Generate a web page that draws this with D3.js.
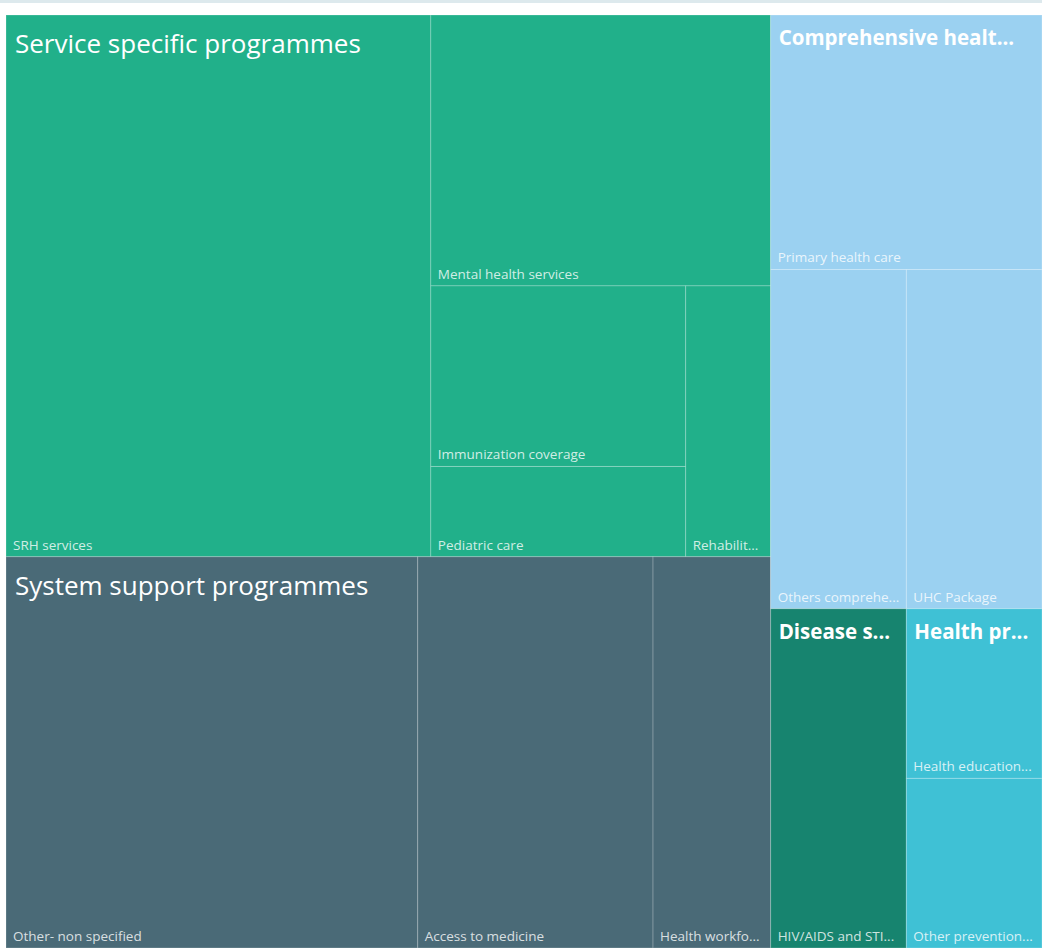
<!DOCTYPE html>
<html>
<head>
<meta charset="utf-8">
<script src="https://cdn.jsdelivr.net/npm/d3@7"></script>
<style>
  body { margin: 0; background: #fff; }
  svg { display: block; font-family: 'Open Sans', 'Noto Sans', sans-serif; }
</style>
</head>
<body>
<svg id="chart" width="1042" height="950"></svg>
<script>
// group names and their colours
let groupNames = [
  'Service specific programmes',
  'System support programmes',
  'Comprehensive health care',
  'Disease specific programmes',
  'Health promotion'
];
let groupColors = ['#21b08a', '#4a6a77', '#9bd1f1', '#17846f', '#3fc1d5'];

// leaves: name, group index, count
let leafNames = [
  'SRH services', 'Mental health services', 'Immunization coverage', 'Pediatric care', 'Rehabilitation',
  'Other- non specified', 'Access to medicine', 'Health workforce',
  'Primary health care', 'Others comprehensive', 'UHC Package',
  'HIV/AIDS and STI programmes',
  'Health education and awareness', 'Other prevention programmes'
];
let leafGroups = [0, 0, 0, 0, 0, 1, 1, 1, 2, 2, 2, 3, 4, 4];
let leafValues = [10, 4, 2, 1, 1, 7, 4, 2, 3, 2, 2, 2, 1, 1];

let margin = {top: 15, right: 0, bottom: 2, left: 6},
  width = 1042 - margin.left - margin.right,
  height = 950 - margin.top - margin.bottom;

let svg = d3.select('#chart');

// thin band at the very top
svg.append('rect')
  .attr('x', 0).attr('y', 0)
  .attr('width', 1042).attr('height', 3)
  .attr('fill', '#dde9ed');

let g = svg.append('g')
  .attr('transform', 'translate(' + margin.left + ',' + margin.top + ')');

let color = d3.scaleOrdinal().domain(groupNames).range(groupColors);

let treeData = {
  name: 'root',
  children: groupNames.map((name, gi) => ({
    name: name,
    children: leafNames
      .map((n, i) => ({name: n, value: leafValues[i], group: leafGroups[i]}))
      .filter((d) => d.group === gi)
  }))
};

let root = d3.hierarchy(treeData)
  .sum((d) => d.value || 0)
  .sort((a, b) => b.value - a.value);

d3.treemap()
  .size([width, height])
  .tile(d3.treemapSquarify)
  .round(false)(root);

// cut a label down with '...' until it fits
let fitText = function (sel, maxWidth) {
  sel.each(function () {
    let t = d3.select(this);
    let full = t.text();
    if (this.getComputedTextLength() <= maxWidth) return;
    let n = full.length;
    while (n > 0) {
      n--;
      t.text(full.slice(0, n).trimEnd() + '...');
      if (this.getComputedTextLength() <= maxWidth) break;
    }
  });
};

// leaf cells
let leaves = g.selectAll('.leaf')
  .data(root.leaves())
  .enter()
  .append('g')
  .attr('class', 'leaf');

leaves.append('rect')
  .attr('x', (d) => d.x0)
  .attr('y', (d) => d.y0)
  .attr('width', (d) => d.x1 - d.x0)
  .attr('height', (d) => d.y1 - d.y0)
  .attr('fill', (d) => color(d.parent.data.name))
  .attr('stroke', 'rgba(255,255,255,0.22)')
  .attr('stroke-width', 1);

leaves.append('text')
  .attr('x', (d) => d.x0 + 7)
  .attr('y', (d) => d.y1 - 7)
  .attr('font-size', 13.5)
  .attr('fill', '#fff')
  .attr('fill-opacity', 0.8)
  .text((d) => d.data.name)
  .each(function (d) { fitText(d3.select(this), d.x1 - d.x0 - 14); });

// group labels
let groups = g.selectAll('.group')
  .data(root.children)
  .enter()
  .append('text')
  .attr('class', 'group')
  .attr('fill', '#fff')
  .each(function (d) {
    let big = (d.x1 - d.x0) > 400;
    d3.select(this)
      .attr('x', d.x0 + (big ? 9 : 8))
      .attr('y', d.y0 + (big ? 38 : 30))
      .attr('font-size', big ? 26 : 20.5)
      .attr('font-weight', big ? 400 : 700)
      .text(d.data.name);
    fitText(d3.select(this), (d.x1 - d.x0) * 0.87);
  });
</script>
</body>
</html>
